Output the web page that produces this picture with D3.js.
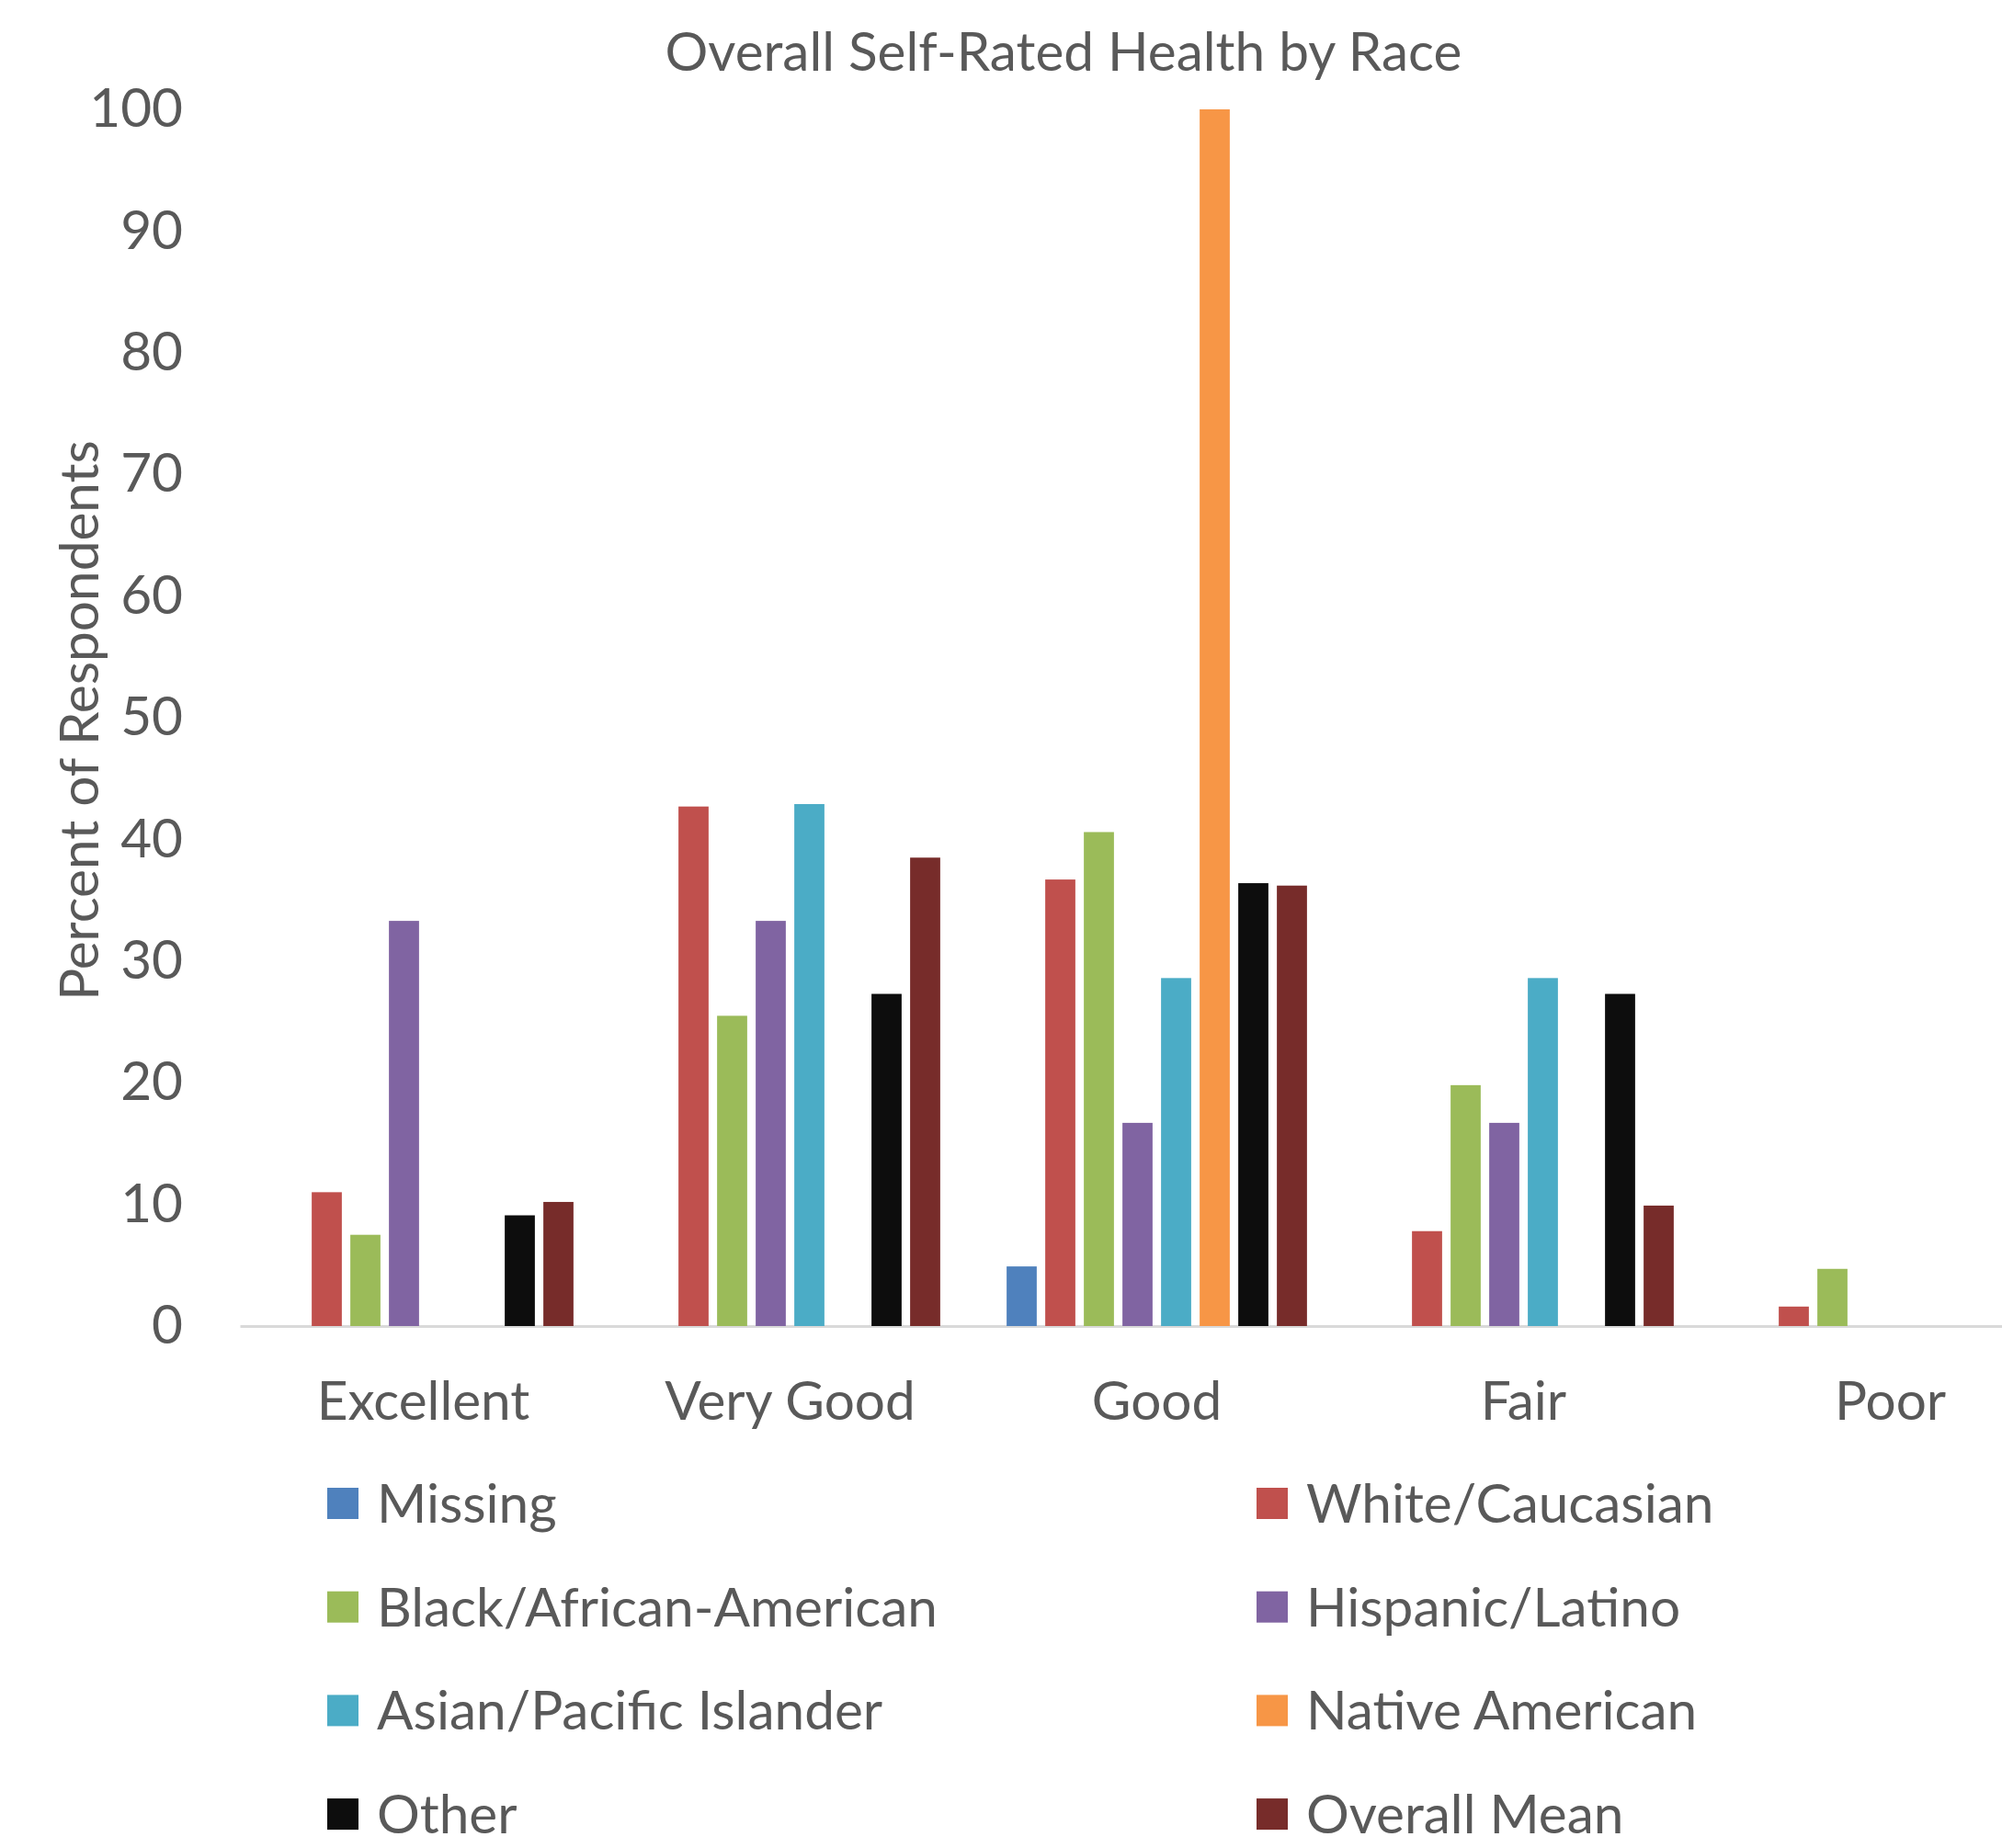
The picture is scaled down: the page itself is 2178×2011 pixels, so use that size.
<!DOCTYPE html>
<html>
<head>
<meta charset="utf-8">
<script src="https://cdnjs.cloudflare.com/ajax/libs/d3/7.8.5/d3.min.js"></script>
<style>
  body { margin: 0; background: #fff; }
  svg text { font-family: Lato, "Noto Sans", sans-serif; fill: #595959; }
</style>
</head>
<body>
<svg id="chart" width="2178" height="2011"></svg>
<script>
// categories on the x axis
var categories = ["Excellent", "Very Good", "Good", "Fair", "Poor"];

// series (legend order)
var seriesNames = ["Missing", "White/Caucasian", "Black/African-American", "Hispanic/Latino",
                   "Asian/Pacific Islander", "Native American", "Other", "Overall Mean"];
var seriesColors = ["#4F81BD", "#C0504D", "#9BBB59", "#8064A2", "#4BACC6", "#F79646", "#0D0D0D", "#772C2A"];

// percent of respondents, one value per category
var missing  = [0, 0, 4.9, 0, 0];
var white    = [11.0, 42.7, 36.7, 7.8, 1.6];
var black    = [7.5, 25.5, 40.6, 19.8, 4.7];
var hispanic = [33.3, 33.3, 16.7, 16.7, 0];
var asian    = [0, 42.9, 28.6, 28.6, 0];
var native   = [0, 0, 100, 0, 0];
var other    = [9.1, 27.3, 36.4, 27.3, 0];
var overall  = [10.2, 38.5, 36.2, 9.9, 0];

var yTicks = [0, 10, 20, 30, 40, 50, 60, 70, 80, 90, 100];

var seriesValues = [missing, white, black, hispanic, asian, native, other, overall];

var svg = d3.select("#chart");
var fontSize = 58.5;

// scales
var y = d3.scaleLinear().domain([0, 100]).range([1443, 119]);
var x0 = d3.scaleBand().domain(categories).range([261, 2256]);
var groupW = 336;
var x1 = d3.scaleBand().domain(seriesNames)
  .range([(x0.bandwidth() - groupW) / 2, (x0.bandwidth() + groupW) / 2])
  .paddingInner(0.22).paddingOuter(0.11);

// flatten into bar records
var bars = [];
seriesNames.forEach(function(s, si){
  categories.forEach(function(c, ci){
    var v = seriesValues[si][ci];
    if (v > 0) bars.push({series: s, cat: c, value: v, color: seriesColors[si]});
  });
});

// x axis (baseline + labels)
var xAxis = svg.append("g")
  .attr("transform", "translate(0,1443)")
  .call(d3.axisBottom(x0).tickSize(0));
xAxis.select(".domain").attr("stroke", "#D9D9D9").attr("stroke-width", 3);
xAxis.selectAll("text")
  .attr("y", 102).attr("dy", 0)
  .style("font-size", fontSize + "px");

// bars
svg.append("g").selectAll("rect")
  .data(bars)
  .enter().append("rect")
  .attr("x", function(d){ return x0(d.cat) + x1(d.series); })
  .attr("y", function(d){ return y(d.value); })
  .attr("width", x1.bandwidth())
  .attr("height", function(d){ return y(0) - y(d.value); })
  .attr("fill", function(d){ return d.color; });

// y axis
var yAxis = svg.append("g")
  .attr("transform", "translate(261,0)")
  .call(d3.axisLeft(y).tickValues(yTicks).tickSize(0).tickPadding(62));
yAxis.select(".domain").remove();
yAxis.selectAll("text").style("font-size", fontSize + "px");

// y axis title
svg.append("text")
  .attr("transform", "translate(107,784) rotate(-90)")
  .attr("text-anchor", "middle")
  .style("font-size", fontSize + "px")
  .text("Percent of Respondents");

// chart title
svg.append("text")
  .attr("x", 1157).attr("y", 77)
  .attr("text-anchor", "middle")
  .style("font-size", fontSize + "px")
  .text("Overall Self-Rated Health by Race");

// legend, two columns
var legend = svg.append("g").selectAll("g")
  .data(seriesNames)
  .enter().append("g")
  .attr("transform", function(d, i){
    var col = i % 2, row = Math.floor(i / 2);
    return "translate(" + (356 + col * 1011) + "," + (1636 + row * 112.7) + ")";
  });
legend.append("rect")
  .attr("x", 0).attr("y", -17)
  .attr("width", 34).attr("height", 34)
  .attr("fill", function(d, i){ return seriesColors[i]; });
legend.append("text")
  .attr("x", 54).attr("y", 21)
  .style("font-size", fontSize + "px")
  .text(function(d){ return d; });
</script>
</body>
</html>
